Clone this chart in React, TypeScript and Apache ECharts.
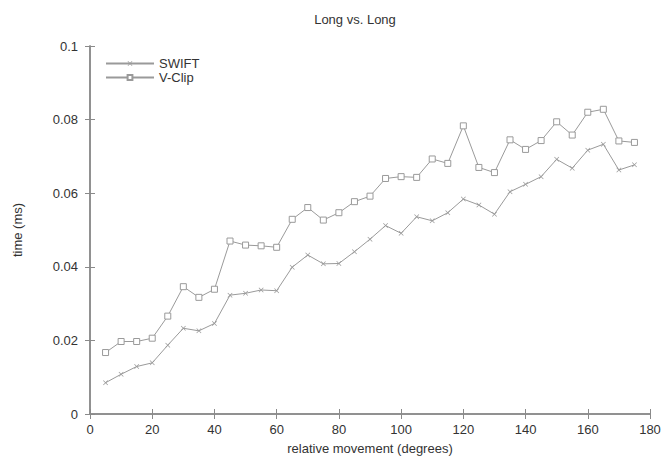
import React, { useEffect, useRef } from "react";
import * as echarts from "echarts";

const xValues = [5, 10, 15, 20, 25, 30, 35, 40, 45, 50, 55, 60, 65, 70, 75, 80, 85, 90, 95, 100, 105, 110, 115, 120, 125, 130, 135, 140, 145, 150, 155, 160, 165, 170, 175];
const swift = [0.0085, 0.0108, 0.0129, 0.0139, 0.0187, 0.0233, 0.0226, 0.0246, 0.0323, 0.0328, 0.0337, 0.0335, 0.0399, 0.0432, 0.0408, 0.0409, 0.0441, 0.0475, 0.0512, 0.0491, 0.0536, 0.0525, 0.0547, 0.0584, 0.0568, 0.0543, 0.0604, 0.0624, 0.0645, 0.0692, 0.0668, 0.0717, 0.0733, 0.0663, 0.0677];
const vclip = [0.0167, 0.0197, 0.0197, 0.0206, 0.0266, 0.0346, 0.0317, 0.0339, 0.047, 0.0459, 0.0457, 0.0453, 0.0529, 0.0561, 0.0527, 0.0547, 0.0577, 0.0592, 0.064, 0.0645, 0.0643, 0.0693, 0.0681, 0.0783, 0.067, 0.0656, 0.0745, 0.0719, 0.0743, 0.0794, 0.0758, 0.082, 0.0828, 0.0742, 0.0738];
const xTicks = [0, 20, 40, 60, 80, 100, 120, 140, 160, 180];
const yTicks = [0, 0.02, 0.04, 0.06, 0.08, 0.1];

const FONT = "Liberation Sans, Arial, sans-serif";
const AXIS = "#8a8a8a";
const LINE = "#9a9a9a";
const TEXT = "#333";
const CROSS = "path://M0,1L1,0L5,4L9,0L10,1L6,5L10,9L9,10L5,6L1,10L0,9L4,5Z";

export default function App() {
  const ref = useRef<HTMLDivElement>(null);
  useEffect(() => {
    const chart = echarts.init(ref.current!, null, { renderer: "svg" });
    const axisLine = { show: true, lineStyle: { color: AXIS, width: 1.5 } };
    const tick = { show: true, inside: true, length: 5, lineStyle: { color: AXIS } };
    chart.setOption({
      animation: false,
      backgroundColor: "#fff",
      title: {
        text: "Long vs. Long",
        left: 350,
        top: 8,
        textAlign: "center",
        textStyle: { fontFamily: FONT, fontSize: 13, fontWeight: "normal", color: TEXT },
      },
      legend: {
        left: 100,
        top: 52,
        orient: "vertical",
        itemGap: 1,
        itemWidth: 48,
        itemHeight: 6,
        textStyle: { fontFamily: FONT, fontSize: 13, color: TEXT },
        data: ["SWIFT", "V-Clip"],
      },
      grid: { left: 90, right: 14, top: 46, bottom: 51 },
      xAxis: [
        {
          type: "value",
          min: 0,
          max: 180,
          interval: 20,
          name: "relative movement (degrees)",
          nameLocation: "middle",
          nameGap: 28,
          nameTextStyle: { fontFamily: FONT, fontSize: 13, color: TEXT },
          axisLine,
          axisTick: tick,
          splitLine: { show: false },
          axisLabel: {
            fontFamily: FONT,
            fontSize: 13,
            color: TEXT,
            margin: 9,
            formatter: (v: number) => (xTicks.includes(v) ? String(v) : ""),
          },
        },
        {
          type: "value",
          position: "top",
          min: 0,
          max: 180,
          interval: 20,
          axisLine,
          axisTick: tick,
          axisLabel: { show: false },
          splitLine: { show: false },
        },
      ],
      yAxis: [
        {
          type: "value",
          min: 0,
          max: 0.1,
          interval: 0.02,
          name: "time (ms)",
          nameLocation: "middle",
          nameGap: 66,
          nameTextStyle: { fontFamily: FONT, fontSize: 13, color: TEXT },
          axisLine,
          axisTick: tick,
          splitLine: { show: false },
          axisLabel: {
            fontFamily: FONT,
            fontSize: 13,
            color: TEXT,
            margin: 12,
            formatter: (v: number) => {
              const t = yTicks.find((y) => Math.abs(y - v) < 1e-9);
              return t === undefined ? "" : t === 0 ? "0" : String(Number(t.toFixed(2)));
            },
          },
        },
        {
          type: "value",
          position: "right",
          min: 0,
          max: 0.1,
          interval: 0.02,
          axisLine,
          axisTick: tick,
          axisLabel: { show: false },
          splitLine: { show: false },
        },
      ],
      series: [
        {
          name: "SWIFT",
          type: "line",
          data: xValues.map((x, i) => [x, swift[i]]),
          symbol: CROSS,
          symbolSize: 5,
          showAllSymbol: true,
          lineStyle: { color: LINE, width: 1 },
          itemStyle: { color: LINE },
        },
        {
          name: "V-Clip",
          type: "line",
          data: xValues.map((x, i) => [x, vclip[i]]),
          symbol: "rect",
          symbolSize: 6,
          showAllSymbol: true,
          lineStyle: { color: LINE, width: 1 },
          itemStyle: { color: "#fff", borderColor: LINE, borderWidth: 1 },
        },
      ],
    });
    return () => chart.dispose();
  }, []);
  return <div ref={ref} style={{ width: 664, height: 465, position: "absolute", left: 0, top: 0 }} />;
}
